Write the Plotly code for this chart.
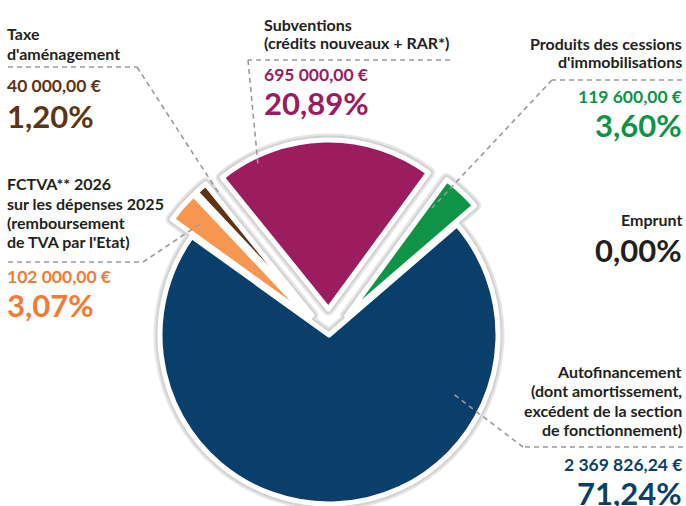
import math
import plotly.graph_objects as go

# ---------------- data ----------------
categories = [
    "FCTVA** 2026 sur les dépenses 2025 (remboursement de TVA par l'Etat)",
    "Taxe d'aménagement",
    "Subventions (crédits nouveaux + RAR*)",
    "Produits des cessions d'immobilisations",
    "Emprunt",
    "Autofinancement (dont amortissement, excédent de la section de fonctionnement)",
]
amounts = [102000.00, 40000.00, 695000.00, 119600.00, 0.00, 2369826.24]
amount_labels = ["102 000,00 €", "40 000,00 €", "695 000,00 €", "119 600,00 €", "", "2 369 826,24 €"]
percent_labels = ["3,07%", "1,20%", "20,89%", "3,60%", "0,00%", "71,24%"]
exploded = [True, True, True, True, False, False]

slice_colors = ["#f7964f", "#5e3414", "#9b1c5f", "#0f9447", "#231f20", "#0b3f6b"]
text_colors = ["#f47a35", "#5e3414", "#9b1c5f", "#0f9447", "#231f20", "#0b3f6b"]
label_color = "#231f20"

# ---------------- geometry ----------------
W, H = 686, 506
CX, CY, R = 329, 335, 169
PULL_PX = 26
ROT = -54.3
FONT = "Lato"

total = sum(amounts)
fig = go.Figure()


def px_domain(cx, cy, r):
    x0, x1 = (cx - r) / W, (cx + r) / W
    y0, y1 = 1 - (cy + r) / H, 1 - (cy - r) / H
    return dict(x=[max(0, x0), min(1, x1)], y=[max(0, y0), min(1, y1)])


centers = []
cum = 0.0
for i, v in enumerate(amounts):
    mid = ROT + 360 * (cum + v / 2) / total
    cum += v
    off = PULL_PX if exploded[i] else 0
    centers.append((CX + off * math.sin(math.radians(mid)),
                    CY - off * math.cos(math.radians(mid))))


def slice_trace(i, line_color, line_width):
    n = len(amounts)
    return go.Pie(
        values=amounts,
        labels=categories,
        sort=False,
        direction="clockwise",
        rotation=ROT,
        textinfo="none",
        hoverinfo="skip",
        showlegend=False,
        marker=dict(
            colors=[slice_colors[j] if j == i else "rgba(0,0,0,0)" for j in range(n)],
            line=dict(color=line_color,
                      width=[line_width if j == i else 0 for j in range(n)]),
        ),
        domain=px_domain(centers[i][0], centers[i][1], R),
    )


visible = [i for i, v in enumerate(amounts) if v > 0]
# soft shadow layers
for i in visible:
    fig.add_trace(slice_trace(i, "#e6e6e6", 13))
for i in visible:
    fig.add_trace(slice_trace(i, "#d2d2d2", 9))
# top layer with white border
for i in visible:
    fig.add_trace(slice_trace(i, "white", 5))

# ---------------- annotations ----------------


def text_line(x, baseline, text, size, color, anchor):
    center = baseline - 0.387 * size
    fig.add_annotation(
        x=x / W, y=1 - center / H, xref="paper", yref="paper",
        xanchor=anchor, yanchor="middle", align=anchor, showarrow=False,
        text=text,
        font=dict(family=FONT, size=size, color=color, weight="bold"),
    )


def text_lines(x, first_baseline, step, lines, size, color, anchor):
    for k, t in enumerate(lines):
        text_line(x, first_baseline + k * step, t, size, color, anchor)


def leader(points):
    for (x0, y0), (x1, y1) in zip(points[:-1], points[1:]):
        fig.add_shape(type="line", xref="paper", yref="paper",
                      x0=x0 / W, y0=1 - y0 / H, x1=x1 / W, y1=1 - y1 / H,
                      line=dict(color="#9a9a9a", width=1.6, dash="5px,4px"))


LAB, AMT, PCT = 16, 17.5, 31
LX, RX = 5, 684

# Taxe d'aménagement
text_lines(LX, 39.5, 20, ["Taxe", "d'aménagement"], LAB, label_color, "left")
text_line(LX, 92.5, amount_labels[1], AMT, text_colors[1], "left")
text_line(LX, 128, percent_labels[1], PCT, text_colors[1], "left")
leader([(8, 67), (137, 67), (218, 192)])

# Subventions
text_lines(262, 30.5, 18.5, ["Subventions", "(crédits nouveaux + RAR*)"], LAB, label_color, "left")
text_line(262, 81.5, amount_labels[2], AMT, text_colors[2], "left")
text_line(262, 115, percent_labels[2], PCT, text_colors[2], "left")
leader([(450, 60), (248, 60), (258, 165)])

# Produits des cessions
text_lines(RX, 49.5, 18, ["Produits des cessions", "d'immobilisations"], LAB, label_color, "right")
text_line(RX, 103.5, amount_labels[3], AMT, text_colors[3], "right")
text_line(RX, 137, percent_labels[3], PCT, text_colors[3], "right")
leader([(682, 80), (552, 80), (432, 208)])

# Emprunt
text_line(RX, 226, "Emprunt", LAB, label_color, "right")
text_line(RX, 262, percent_labels[4], PCT, text_colors[4], "right")

# FCTVA
text_lines(LX, 190, 19.2, ["FCTVA** 2026", "sur les dépenses 2025", "(remboursement", "de TVA par l'Etat)"],
           LAB, label_color, "left")
text_line(LX, 283.5, amount_labels[0], AMT, text_colors[0], "left")
text_line(LX, 317, percent_labels[0], PCT, text_colors[0], "left")
leader([(8, 262), (143, 262), (200, 224)])

# Autofinancement
text_lines(RX, 377.5, 19.5, ["Autofinancement", "(dont amortissement,", "excédent de la section",
                             "de fonctionnement)"], LAB, label_color, "right")
text_line(RX, 471, amount_labels[5], AMT, text_colors[5], "right")
text_line(RX, 505, percent_labels[5], PCT, text_colors[5], "right")
leader([(683, 447), (523, 447), (452, 393)])

fig.update_layout(
    width=W, height=H,
    margin=dict(l=0, r=0, t=0, b=0),
    paper_bgcolor="white", plot_bgcolor="white",
    font=dict(family=FONT),
)

fig.write_html("out.html",
               config={"displayModeBar": False},
               post_script="document.body.style.margin='0px';document.body.style.overflow='hidden';")
